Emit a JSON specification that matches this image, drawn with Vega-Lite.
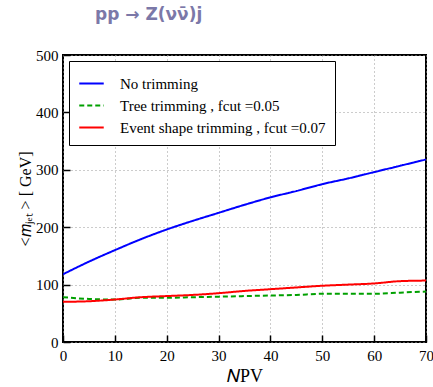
{
  "$schema": "https://vega.github.io/schema/vega-lite/v6.json",
  "autosize": {"type": "none"},
  "width": 363,
  "height": 287,
  "padding": {"left": 63, "top": 55, "right": 7, "bottom": 45},
  "background": "white",
  "title": {
    "text": "pp → Z(νν̄)j",
    "anchor": "start",
    "frame": "group",
    "dx": 32,
    "offset": 24,
    "font": "DejaVu Sans",
    "fontSize": 17,
    "fontWeight": "bold",
    "color": "#7b78a8"
  },
  "config": {
    "view": {"stroke": "black", "strokeWidth": 2}
  },
  "data": {"values": [
      {"series": "No trimming", "x": 0, "y": 118},
      {"series": "No trimming", "x": 5, "y": 140},
      {"series": "No trimming", "x": 10, "y": 160},
      {"series": "No trimming", "x": 15, "y": 179},
      {"series": "No trimming", "x": 20, "y": 196},
      {"series": "No trimming", "x": 25, "y": 211},
      {"series": "No trimming", "x": 30, "y": 225},
      {"series": "No trimming", "x": 35, "y": 239},
      {"series": "No trimming", "x": 40, "y": 252},
      {"series": "No trimming", "x": 45, "y": 263},
      {"series": "No trimming", "x": 50, "y": 275},
      {"series": "No trimming", "x": 55, "y": 285},
      {"series": "No trimming", "x": 60, "y": 296},
      {"series": "No trimming", "x": 65, "y": 307},
      {"series": "No trimming", "x": 70, "y": 318},
      {"series": "Tree trimming , fcut =0.05", "x": 0, "y": 78},
      {"series": "Tree trimming , fcut =0.05", "x": 5, "y": 75},
      {"series": "Tree trimming , fcut =0.05", "x": 10, "y": 74},
      {"series": "Tree trimming , fcut =0.05", "x": 15, "y": 77},
      {"series": "Tree trimming , fcut =0.05", "x": 20, "y": 77},
      {"series": "Tree trimming , fcut =0.05", "x": 25, "y": 78},
      {"series": "Tree trimming , fcut =0.05", "x": 30, "y": 79},
      {"series": "Tree trimming , fcut =0.05", "x": 35, "y": 80},
      {"series": "Tree trimming , fcut =0.05", "x": 40, "y": 81},
      {"series": "Tree trimming , fcut =0.05", "x": 45, "y": 82},
      {"series": "Tree trimming , fcut =0.05", "x": 50, "y": 84},
      {"series": "Tree trimming , fcut =0.05", "x": 55, "y": 84},
      {"series": "Tree trimming , fcut =0.05", "x": 60, "y": 84},
      {"series": "Tree trimming , fcut =0.05", "x": 65, "y": 86},
      {"series": "Tree trimming , fcut =0.05", "x": 70, "y": 88},
      {"series": "Event shape trimming , fcut =0.07", "x": 0, "y": 70},
      {"series": "Event shape trimming , fcut =0.07", "x": 5, "y": 71},
      {"series": "Event shape trimming , fcut =0.07", "x": 10, "y": 74},
      {"series": "Event shape trimming , fcut =0.07", "x": 15, "y": 78},
      {"series": "Event shape trimming , fcut =0.07", "x": 20, "y": 80},
      {"series": "Event shape trimming , fcut =0.07", "x": 25, "y": 82},
      {"series": "Event shape trimming , fcut =0.07", "x": 30, "y": 85},
      {"series": "Event shape trimming , fcut =0.07", "x": 35, "y": 89},
      {"series": "Event shape trimming , fcut =0.07", "x": 40, "y": 92},
      {"series": "Event shape trimming , fcut =0.07", "x": 45, "y": 95},
      {"series": "Event shape trimming , fcut =0.07", "x": 50, "y": 98},
      {"series": "Event shape trimming , fcut =0.07", "x": 55, "y": 100},
      {"series": "Event shape trimming , fcut =0.07", "x": 60, "y": 102},
      {"series": "Event shape trimming , fcut =0.07", "x": 65, "y": 106},
      {"series": "Event shape trimming , fcut =0.07", "x": 70, "y": 107}
  ]},
  "mark": {"type": "line", "strokeWidth": 2, "interpolate": "monotone", "clip": true},
  "encoding": {
    "x": {
      "field": "x", "type": "quantitative",
      "scale": {"domain": [0, 70], "nice": false, "zero": false},
      "axis": {
        "domain": false,
        "values": [0, 10, 20, 30, 40, 50, 60, 70],
        "tickColor": "black",
        "tickWidth": 1.5,
        "tickSize": -7,
        "grid": true,
        "gridWidth": 1,
        "gridDash": [1, 3],
        "gridColor": "#999999",
        "labelFont": "Liberation Serif",
        "labelColor": "black",
        "labelFontSize": 15,
        "labelPadding": 13,
        "labelFlush": false,
        "title": "𝑁PV",
        "titleFont": "Liberation Serif",
        "titleColor": "black",
        "titleFontSize": 18,
        "titleFontWeight": "normal",
        "titlePadding": 4
      }
    },
    "y": {
      "field": "y", "type": "quantitative",
      "scale": {"domain": [0, 500], "nice": false},
      "axis": {
        "domain": false,
        "values": [0, 100, 200, 300, 400, 500],
        "tickColor": "black",
        "tickWidth": 1.5,
        "tickSize": -7,
        "grid": true,
        "gridWidth": 1,
        "gridDash": [1, 3],
        "gridColor": "#999999",
        "labelFont": "Liberation Serif",
        "labelColor": "black",
        "labelFontSize": 15,
        "labelPadding": 12,
        "labelFlush": false,
        "title": "<𝑚ⱼₑₜ > [ GeV]",
        "titleFont": "Liberation Serif",
        "titleColor": "black",
        "titleFontSize": 16,
        "titleFontWeight": "normal",
        "titlePadding": 2
      }
    },
    "color": {
      "field": "series", "type": "nominal",
      "scale": {
        "domain": ["No trimming", "Tree trimming , fcut =0.05", "Event shape trimming , fcut =0.07"],
        "range": ["#0000ff", "#00a000", "#ff0000"]
      },
      "legend": {
        "title": null,
        "orient": "top-left",
        "offset": 6,
        "fillColor": "white",
        "strokeColor": "black",
        "padding": 9,
        "symbolType": "stroke",
        "symbolSize": 600,
        "symbolStrokeWidth": 2,
        "labelFont": "Liberation Serif",
        "labelFontSize": 15,
        "labelColor": "black",
        "labelOffset": 15,
        "rowPadding": 0,
        "labelLimit": 400
      }
    },
    "strokeDash": {
      "field": "series", "type": "nominal",
      "scale": {
        "domain": ["No trimming", "Tree trimming , fcut =0.05", "Event shape trimming , fcut =0.07"],
        "range": [[1, 0], [5, 3], [1, 0]]
      },
      "legend": null
    }
  }
}
